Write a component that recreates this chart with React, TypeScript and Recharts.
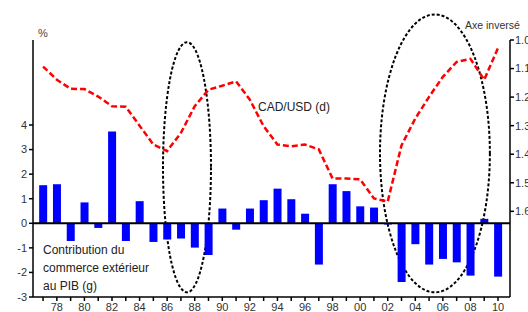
import React from 'react';
import {
  ComposedChart, Bar, Line, XAxis, YAxis, ReferenceLine, ReferenceArea, Customized,
} from 'recharts';

const years = [1977, 1978, 1979, 1980, 1981, 1982, 1983, 1984, 1985, 1986, 1987, 1988, 1989, 1990, 1991, 1992, 1993, 1994, 1995, 1996, 1997, 1998, 1999, 2000, 2001, 2002, 2003, 2004, 2005, 2006, 2007, 2008, 2009, 2010];
const tradeContribution = [1.55, 1.59, -0.72, 0.85, -0.19, 3.74, -0.72, 0.9, -0.76, -0.66, -0.62, -0.99, -1.29, 0.6, -0.26, 0.6, 0.94, 1.41, 0.98, 0.39, -1.68, 1.59, 1.31, 0.69, 0.64, -0.05, -2.39, -0.85, -1.68, -1.45, -1.59, -2.13, 0.18, -2.17];
const cadUsd = [1.093, 1.139, 1.171, 1.172, 1.198, 1.232, 1.234, 1.3, 1.366, 1.389, 1.325, 1.232, 1.174, 1.16, 1.145, 1.209, 1.302, 1.366, 1.372, 1.366, 1.383, 1.485, 1.485, 1.488, 1.555, 1.566, 1.369, 1.275, 1.199, 1.129, 1.077, 1.066, 1.139, 1.028];
const leftTicks = [-3, -2, -1, 0, 1, 2, 3, 4];
const rightTicks = [1.0, 1.1, 1.2, 1.3, 1.4, 1.5, 1.6];
// annotation ellipses: [yearFrom, yearTo, leftTop, leftBottom]
const ellipse1 = [1985.7, 1989.18, 7.37, -2.81];
const ellipse2 = [2001.44, 2009.41, 8.5, -2.81];

const data = years.map((y, i) => ({ year: y, trade: tradeContribution[i], cad: cadUsd[i] }));

const FONT = '"Liberation Sans", Arial, sans-serif';

const EllipseShape = (props: any) => {
  const { x, y, width, height } = props;
  return (
    <ellipse
      cx={x + width / 2}
      cy={y + height / 2}
      rx={Math.abs(width) / 2}
      ry={Math.abs(height) / 2}
      fill="none"
      stroke="#000"
      strokeWidth={2}
      strokeDasharray="3 2"
    />
  );
};

const Texts = () => (
  <g fontFamily={FONT}>
    <text x={38} y={37} fontSize={11} fill="#444">%</text>
    <text x={465} y={29} fontSize={10.5} fill="#333">Axe inversé</text>
    <text x={258} y={111} fontSize={12} fill="#222">CAD/USD (d)</text>
    <text x={43} y={254} fontSize={12} fill="#222">Contribution du</text>
    <text x={43} y={272} fontSize={12} fill="#222">commerce extérieur</text>
    <text x={43} y={290} fontSize={12} fill="#222">au PIB (g)</text>
  </g>
);

export default function App() {
  return (
    <div style={{ position: 'absolute', left: 0, top: 0, background: '#fff' }}>
      <ComposedChart
        width={528}
        height={312}
        data={data}
        margin={{ top: 40, right: 0, bottom: 0, left: 0 }}
        style={{ fontFamily: FONT }}
      >
        <XAxis
          dataKey="year"
          type="number"
          domain={[1976.27, 2010.87]}
          allowDataOverflow
          ticks={years}
          interval={0}
          tickFormatter={(v: number) => (v % 2 === 0 ? String(v % 100).padStart(2, '0') : '')}
          height={15}
          tickSize={4}
          tickMargin={2}
          stroke="#000"
          strokeWidth={1.5}
          tick={{ fontSize: 11, fill: '#333' }}
        />
        <YAxis
          yAxisId="left"
          orientation="left"
          width={33}
          domain={[-3, 7.46]}
          allowDataOverflow
          ticks={leftTicks}
          interval={0}
          tickSize={4}
          tickMargin={2}
          stroke="#000"
          strokeWidth={1.5}
          tick={{ fontSize: 11, fill: '#333' }}
        />
        <YAxis
          yAxisId="right"
          orientation="right"
          width={18}
          domain={[1.0, 1.9]}
          reversed
          allowDataOverflow
          ticks={rightTicks}
          interval={0}
          tickFormatter={(v: number) => v.toFixed(1)}
          tickSize={4}
          tickMargin={1}
          stroke="#000"
          strokeWidth={1.5}
          tick={{ fontSize: 11, fill: '#333', textAnchor: 'start' }}
        />
        <Bar
          yAxisId="left"
          dataKey="trade"
          fill="#0000FF"
          barSize={8}
          isAnimationActive={false}
        />
        <ReferenceLine yAxisId="left" y={0} stroke="#000" strokeWidth={2} />
        <Line
          yAxisId="right"
          dataKey="cad"
          type="linear"
          stroke="#FF0000"
          strokeWidth={2.5}
          strokeDasharray="6 3"
          dot={false}
          isAnimationActive={false}
        />
        <ReferenceArea
          yAxisId="left"
          x1={ellipse1[0]}
          x2={ellipse1[1]}
          y1={ellipse1[2]}
          y2={ellipse1[3]}
          ifOverflow="visible"
          shape={EllipseShape}
        />
        <ReferenceArea
          yAxisId="left"
          x1={ellipse2[0]}
          x2={ellipse2[1]}
          y1={ellipse2[2]}
          y2={ellipse2[3]}
          ifOverflow="visible"
          shape={EllipseShape}
        />
        <Customized component={Texts} />
      </ComposedChart>
    </div>
  );
}
